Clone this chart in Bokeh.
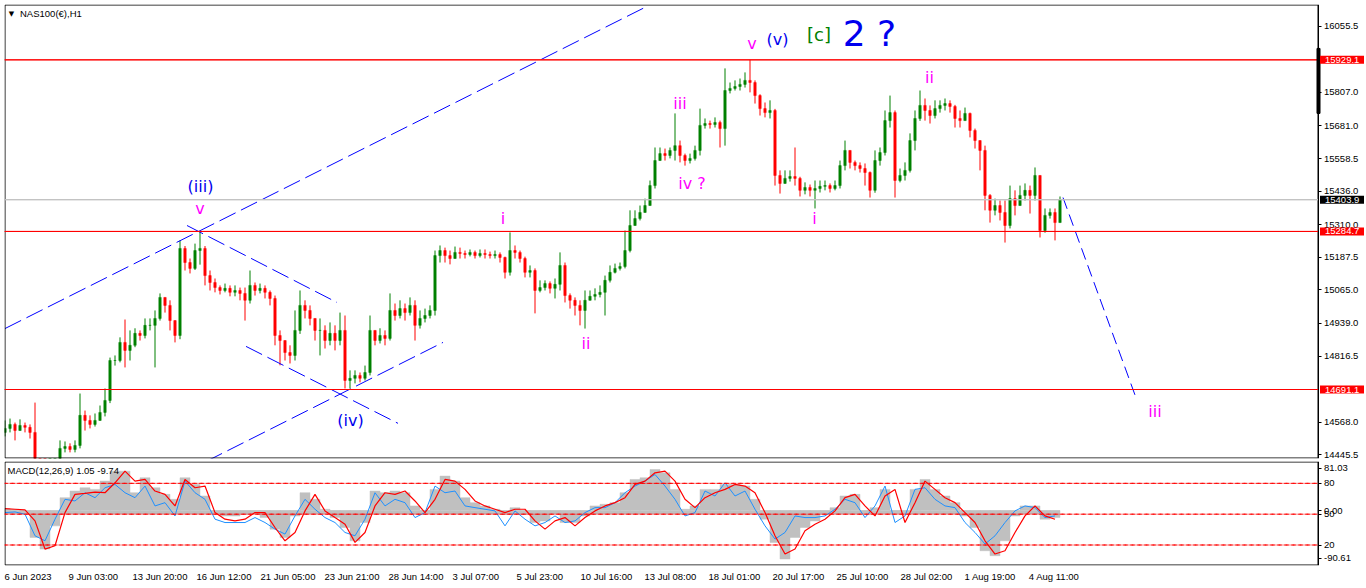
import numpy as np
from bokeh.plotting import figure
from bokeh.layouts import column
from bokeh.models import (Range1d, FixedTicker, NumeralTickFormatter, Label, BoxAnnotation,
                          ColumnDataSource)
from bokeh.embed import file_html
from bokeh.resources import INLINE
from bokeh.core.properties import value

# ---------------- data (NAS100 H1, one entry per 5 hourly bars) ----------------
first_open = 14530
close = [
    14545, 14560, 14537, 14556, 14549, 14530, 14387, 14380, 14368, 14387,
    14402, 14470, 14477, 14466, 14481, 14594, 14575, 14560, 14575, 14605,
    14650, 14800, 14800, 14868, 14838, 14857, 14902, 14894, 14932, 14932,
    14958, 15037, 15007, 14950, 14894, 15221, 15168, 15146, 15213, 15221,
    15119, 15093, 15074, 15063, 15071, 15056, 15063, 15052, 15026, 15082,
    15063, 15071, 15056, 15033, 14894, 14875, 14830, 14819, 14913, 15007,
    14988, 14958, 14913, 14913, 14875, 14902, 14875, 14913, 14725, 14733,
    14744, 14733, 14755, 14913, 14875, 14894, 14883, 14988, 14969, 14995,
    14980, 15007, 14932, 14958, 14969, 14988, 15194, 15213, 15194, 15183,
    15206, 15202, 15198, 15206, 15194, 15202, 15198, 15194, 15198, 15187,
    15131, 15213, 15206, 15183, 15131, 15138, 15063, 15074, 15089, 15071,
    15086, 15157, 15044, 15026, 15007, 14988, 15026, 15041, 15048, 15056,
    15101, 15131, 15146, 15153, 15213, 15307, 15333, 15356, 15382, 15457,
    15551, 15577, 15570, 15589, 15607, 15570, 15551, 15559, 15589, 15683,
    15690, 15686, 15694, 15671, 15814, 15822, 15829, 15837, 15852, 15844,
    15795, 15746, 15731, 15739, 15495, 15465, 15484, 15491, 15484, 15439,
    15450, 15439, 15446, 15454, 15457, 15446, 15457, 15532, 15589, 15544,
    15532, 15521, 15506, 15439, 15551, 15581, 15701, 15731, 15476, 15495,
    15514, 15626, 15709, 15758, 15739, 15720, 15746, 15758, 15765, 15754,
    15709, 15701, 15728, 15664, 15626, 15589, 15420, 15364, 15382, 15356,
    15307, 15408, 15382, 15420, 15439, 15420, 15495, 15288, 15345, 15356,
    15318, 15404,
]
high = [
    14575, 14582, 14567, 14579, 14567, 14560, 14642, 14406, 14395, 14410,
    14425, 14500, 14496, 14489, 14500, 14676, 14612, 14594, 14601, 14631,
    14695, 14811, 14819, 14887, 14954, 14913, 14921, 14913, 14958, 14958,
    14988, 15052, 15037, 15026, 14950, 15251, 15230, 15183, 15239, 15285,
    15230, 15138, 15108, 15082, 15089, 15082, 15082, 15074, 15074, 15138,
    15093, 15089, 15082, 15063, 15044, 14913, 14875, 14857, 14988, 15063,
    15026, 15007, 14958, 14958, 14932, 14943, 14932, 14980, 14969, 14763,
    14763, 14755, 14781, 14969, 14913, 14921, 14913, 15052, 15014, 15026,
    15014, 15037, 15026, 14988, 14995, 15007, 15213, 15232, 15224, 15213,
    15228, 15224, 15213, 15217, 15213, 15217, 15217, 15209, 15213, 15206,
    15190, 15281, 15232, 15213, 15190, 15157, 15146, 15101, 15101, 15097,
    15108, 15206, 15168, 15052, 15037, 15026, 15063, 15063, 15071, 15082,
    15119, 15157, 15164, 15168, 15288, 15364, 15364, 15382, 15408, 15476,
    15600, 15600, 15596, 15600, 15728, 15626, 15577, 15577, 15607, 15746,
    15709, 15701, 15713, 15701, 15897, 15844, 15852, 15859, 15882, 15929,
    15852, 15800, 15769, 15777, 15745, 15514, 15514, 15514, 15600, 15490,
    15469, 15461, 15476, 15476, 15476, 15465, 15476, 15551, 15626, 15589,
    15551, 15544, 15540, 15510, 15589, 15600, 15739, 15795, 15739, 15521,
    15544, 15653, 15739, 15814, 15784, 15758, 15777, 15777, 15784, 15777,
    15760, 15739, 15750, 15731, 15671, 15626, 15607, 15425, 15408, 15401,
    15401, 15457, 15439, 15457, 15465, 15457, 15525, 15495, 15371, 15371,
    15371, 15416,
]
low = [
    14515, 14530, 14500, 14537, 14530, 14507, 14368, 14350, 14342, 14357,
    14372, 14395, 14455, 14455, 14455, 14470, 14537, 14545, 14552, 14575,
    14590, 14640, 14781, 14793, 14774, 14800, 14850, 14875, 14883, 14913,
    14774, 14950, 14980, 14913, 14868, 14880, 15138, 15127, 15140, 15160,
    15082, 15063, 15056, 15048, 15056, 15041, 15041, 15026, 14950, 15014,
    15044, 15052, 15033, 15007, 14857, 14782, 14800, 14789, 14800, 14900,
    14958, 14932, 14875, 14819, 14845, 14857, 14838, 14857, 14695, 14695,
    14714, 14718, 14725, 14744, 14857, 14864, 14857, 14875, 14950, 14958,
    14950, 14969, 14875, 14920, 14943, 14958, 14969, 15168, 15168, 15161,
    15183, 15183, 15183, 15191, 15183, 15187, 15183, 15183, 15183, 15168,
    15108, 15119, 15183, 15168, 15112, 15112, 14977, 15056, 15063, 15052,
    15033, 15063, 15018, 14995, 14969, 14932, 14920, 15026, 15026, 15037,
    14969, 15093, 15127, 15138, 15146, 15206, 15307, 15326, 15356, 15382,
    15446, 15551, 15551, 15559, 15551, 15544, 15532, 15540, 15551, 15570,
    15671, 15671, 15675, 15600, 15607, 15803, 15814, 15814, 15825, 15807,
    15765, 15720, 15713, 15709, 15457, 15427, 15465, 15472, 15457, 15416,
    15424, 15416, 15371, 15431, 15439, 15431, 15439, 15446, 15514, 15521,
    15514, 15506, 15457, 15412, 15430, 15532, 15570, 15675, 15412, 15469,
    15476, 15506, 15589, 15700, 15701, 15690, 15709, 15731, 15739, 15731,
    15675, 15675, 15701, 15638, 15596, 15514, 15364, 15318, 15345, 15326,
    15243, 15296, 15345, 15382, 15401, 15352, 15401, 15262, 15280, 15333,
    15251, 15318,
]

# MACD(12,26,9) panel, one entry per 10 hourly bars
macd_hist = [
    3.3, 2.2, -3.3, -44.3, -63.5, -25.2, 21.3, 32.3, 37.7, 35.0,
    48.7, 65.1, 65.1, 29.5, 54.2, 37.7, 26.8, 18.6, 54.2, 43.2,
    24.1, -3.3, -8.8, -8.8, -6.0, -3.3, -11.5, -30.6, -44.3, -8.8,
    29.5, 18.6, 2.2, -11.5, -27.9, -49.8, -19.7, 32.3, 29.5, 32.3,
    29.5, 7.7, -0.5, 35.0, 56.9, 48.7, 21.3, 13.1, 7.7, 2.2,
    -6.0, 4.9, -6.0, -19.7, -17.0, -3.3, -19.7, -19.7, -8.8, 7.7,
    10.4, 13.1, 29.5, 51.4, 54.2, 67.8, 62.4, 35.0, 2.2, 7.7,
    35.0, 35.0, 43.2, 43.2, 40.5, 18.6, -14.2, -52.5, -79.9, -44.3,
    -27.9, -17.0, -6.0, 4.9, 24.1, 26.8, -3.3, 4.9, 35.0, -0.5,
    -6.0, 35.0, 51.4, 35.0, 24.1, 13.1, -8.8, -27.9, -66.2, -74.4,
    -49.8, -8.8, 7.7, 7.7, -14.2, -11.5,
]
macd_signal = [
    3.3, 2.2, 1.1, -17.0, -63.5, -58.0, -3.3, 26.8, 28.4, 30.6,
    29.5, 45.9, 65.1, 48.7, 51.4, 32.3, 26.8, 7.7, 51.4, 37.7,
    40.5, -3.3, -14.2, -17.0, -14.2, -3.3, -3.3, -27.9, -49.8, -36.1,
    -0.5, 26.8, -0.5, -11.5, -22.4, -52.5, -36.1, 7.7, 29.5, 26.8,
    32.3, 15.9, -3.3, 18.6, 51.4, 48.7, 35.0, 15.9, 7.7, 2.2,
    -3.3, 2.2, 2.2, -17.0, -30.6, -17.0, -11.5, -25.2, -11.5, -0.5,
    7.7, 13.1, 21.3, 43.2, 48.7, 62.4, 65.1, 48.7, 18.6, 4.9,
    21.3, 29.5, 35.0, 43.2, 40.5, 29.5, -3.3, -41.6, -71.7, -63.5,
    -33.4, -22.4, -14.2, -0.5, 21.3, 26.8, 7.7, -8.8, 24.1, 35.0,
    -19.7, 13.1, 48.7, 35.0, 21.3, 13.1, -3.3, -19.7, -49.8, -71.7,
    -66.2, -36.1, -8.8, 7.7, -8.8, -14.2,
]
macd_fast = [
    -3.3, -2.2, -6.0, -41.6, -49.8, -14.2, 18.6, 15.9, 29.5, 21.3,
    37.7, 43.2, 29.5, 21.3, 40.5, 7.7, 13.1, -8.8, 48.7, 29.5,
    18.6, -14.2, -19.7, -19.7, -19.7, -11.5, -19.7, -30.6, -38.8, -8.8,
    18.6, 2.2, -11.5, -19.7, -36.1, -41.6, -14.2, 29.5, 7.7, 18.6,
    13.1, -11.5, -3.3, 40.5, 29.5, 32.3, 7.7, 4.9, 2.2, -0.5,
    -25.2, -0.5, -14.2, -25.2, -19.7, -8.8, -19.7, -17.0, -3.3, 4.9,
    4.9, 13.1, 29.5, 40.5, 48.7, 59.6, 40.5, 18.6, -8.8, -3.3,
    32.3, 24.1, 45.9, 24.1, 32.3, 2.2, -25.2, -47.0, -36.1, -8.8,
    -11.5, -11.5, -8.8, 2.2, 18.6, 13.1, -11.5, 7.7, 40.5, -19.7,
    -8.8, 35.0, 37.7, 18.6, 7.7, 4.9, -19.7, -36.1, -55.2, -41.6,
    -19.7, -0.5, 7.7, 4.9, -11.5, -8.8,
]
macd_levels = [45.0, -5.9, -56.8]        # drawn as the 80 / 50 / 20 levels
macd_zero_band = [-5.9, 0.0]

# horizontal levels / price tags
red_levels = [15929.1, 15284.7, 14691.1]
last_price = 15403.9
scale_marker = [15728.0, 15972.0]        # black bar on the price scale
price_ticks = [16055.5, 15807.0, 15681.0, 15558.5, 15436.0, 15310.0, 15187.5,
               15065.0, 14939.0, 14816.5, 14568.0, 14445.5]

# x axis (bar index, hourly); labels start at their bar
date_ticks = [0, 64, 128, 192, 256, 320, 384, 448, 512, 576, 640, 704, 768, 832, 896, 960, 1024]
date_labels = ["6 Jun 2023", "9 Jun 03:00", "13 Jun 20:00", "16 Jun 12:00", "21 Jun 05:00",
               "23 Jun 21:00", "28 Jun 14:00", "3 Jul 07:00", "5 Jul 23:00", "10 Jul 16:00",
               "13 Jul 08:00", "18 Jul 01:00", "20 Jul 17:00", "25 Jul 10:00", "28 Jul 02:00",
               "1 Aug 19:00", "4 Aug 11:00"]

# Elliott-wave trend lines (bar index, price)
channel_x0 = [0.5, 180.0, 182.5, 241.5]
channel_y0 = [14920, 14380, 15307, 14853]
channel_x1 = [642.5, 438.5, 332.5, 393.5]
channel_y1 = [16130, 14868, 15018, 14564]
proj_x = [1058.5, 1132.5]
proj_y = [15412, 14650]

wave_text = ["(iii)", "v", "(iv)", "i", "ii", "iii", "iv ?", "v", "(v)", "[c]", "2 ?", "ii", "i", "iii"]
wave_x = [196, 195.5, 346, 498.5, 581.5, 675.5, 687.5, 747.5, 773, 814.5, 865, 925, 810, 1150.5]
wave_y = [15454, 15371, 14575, 15333, 14864, 15765, 15465, 15990, 16005, 16025, 16028, 15863, 15333, 14607]
wave_color = ["#0000ee", "#ff00ff", "#0000ee", "#ff00ff", "#ff00ff", "#ff00ff", "#ff00ff",
              "#ff00ff", "#0000ee", "#008000", "#0000ee", "#ff00ff", "#ff00ff", "#ff00ff"]
wave_size = ["16px", "16px", "16px", "16px", "16px", "16px", "16px", "16px", "16px",
             "18px", "36px", "16px", "16px", "16px"]

# ---------------- build ----------------
FONT = "Liberation Sans"
TICK_PX = 9.5
TICK_FS = f"{TICK_PX}px"
FRAME_W = 1360          # frame includes the price-scale strip on the right
X_FULL = 1360.0         # 1 bar unit == 1 px
AXIS_X = 1313.5         # chart / price-scale boundary
P_LO, P_HI = 14432.0, 16137.0
M_LO, M_HI = -90.61, 81.03
H1, H2 = 454, 104

opens = [first_open] + close[:-1]
t = np.arange(len(close)) * 5 + 0.5
o = np.array(opens, dtype=float)
c = np.array(close, dtype=float)
h = np.maximum(np.array(high, dtype=float), np.maximum(o, c))
l = np.minimum(np.array(low, dtype=float), np.minimum(o, c))
col = np.where(c >= o, "#008000", "#ff0000")
src = ColumnDataSource(dict(t=t, o=o, c=c, h=h, l=l, top=np.maximum(o, c),
                            bot=np.minimum(o, c), col=col))

def make_tag(y, text, bg):
    kw = dict(x=AXIS_X, y=y, x_offset=2, text=text, text_align="left", text_baseline="middle",
              text_color="white", text_font=FONT, text_font_size=TICK_FS,
              background_fill_color=bg, background_fill_alpha=1.0)
    try:
        return Label(padding=dict(x=5, y=1), **kw)
    except Exception:
        return Label(padding=2, **kw)

def box(**kw):
    kw.setdefault("fill_color", None)
    kw.setdefault("fill_alpha", 1.0)
    kw.setdefault("line_alpha", 1.0)
    kw.setdefault("line_width", 1)
    return BoxAnnotation(**kw)

def hline(y, color, dash="solid"):
    return box(left=0, right=AXIS_X, bottom=y, top=y, line_color=color, line_dash=dash)

def style_axis(a):
    a.major_label_text_font = FONT
    a.major_label_text_font_size = TICK_FS
    a.major_label_text_color = "black"
    a.major_tick_out = 3
    a.major_tick_in = 0
    a.minor_tick_out = 0
    a.minor_tick_in = 0
    a.major_label_standoff = 3
    a.axis_line_color = "black"

# ---------------- main price panel ----------------
p1 = figure(frame_width=FRAME_W, frame_height=H1, x_range=Range1d(0, X_FULL),
            y_range=Range1d(P_LO, P_HI), output_backend="svg", toolbar_location=None,
            x_axis_location=None, y_axis_location="right",
            min_border_left=4, min_border_top=4, min_border_bottom=3, min_border_right=0)
p1.grid.visible = False
p1.outline_line_color = None
p1.background_fill_color = "white"
p1.border_fill_color = "white"

ax = p1.yaxis[0]
ax.ticker = FixedTicker(ticks=price_ticks)
ax.formatter = NumeralTickFormatter(format="0.0")
ax.fixed_location = AXIS_X
style_axis(ax)

half1 = (P_HI - P_LO) / H1 * 0.5
p1.add_layout(box(left=0.5, right=AXIS_X, bottom=P_LO + half1, top=P_HI - half1,
                  line_color="black"))

for lv in red_levels:
    p1.add_layout(hline(lv, "#ff0000"))
p1.add_layout(hline(last_price, "#c0c0c0"))

p1.segment(x0="t", y0="l", x1="t", y1="h", color="col", line_width=1, source=src)
p1.vbar(x="t", top="top", bottom="bot", width=2.4, fill_color="col", line_color="col",
        line_width=0.5, source=src)

p1.segment(x0=channel_x0, y0=channel_y0, x1=channel_x1, y1=channel_y1,
           line_color="#0000ff", line_width=1, line_dash="18 6")
p1.line(x=proj_x, y=proj_y, line_color="#0000ff", line_width=1, line_dash="12 6")

wsrc = ColumnDataSource(dict(x=wave_x, y=wave_y, text=wave_text, color=wave_color, size=wave_size))
p1.text(x="x", y="y", text="text", text_color="color", text_font_size="size",
        text_font=value("DejaVu Sans"), text_align="center", text_baseline="middle", source=wsrc)

p1.add_layout(box(left=AXIS_X - 1, right=AXIS_X + 2, bottom=scale_marker[0], top=scale_marker[1],
                  fill_color="black", line_color="black"))

for lv in red_levels:
    p1.add_layout(make_tag(lv, f"{lv:.1f}", "#ff0000"))
p1.add_layout(make_tag(last_price, f"{last_price:.1f}", "black"))

p1.add_layout(Label(x=7, y=H1 - 9, x_units="screen", y_units="screen", text="\u25bc",
                    text_align="center", text_baseline="middle", text_font="DejaVu Sans",
                    text_font_size="7px", text_color="black"))
p1.add_layout(Label(x=15.5, y=H1 - 9, x_units="screen", y_units="screen",
                    text="NAS100(\u20ac),H1", text_align="left", text_baseline="middle",
                    text_font=FONT, text_font_size=TICK_FS, text_color="black"))

# ---------------- MACD panel ----------------
mt = np.arange(len(macd_hist)) * 10 + 0.5
p2 = figure(frame_width=FRAME_W, frame_height=H2, x_range=p1.x_range,
            y_range=Range1d(M_LO, M_HI), output_backend="svg", toolbar_location=None,
            y_axis_location="right",
            min_border_left=4, min_border_top=0, min_border_bottom=0, min_border_right=0)
p2.grid.visible = False
p2.outline_line_color = None
p2.background_fill_color = "white"
p2.border_fill_color = "white"

half2 = (M_HI - M_LO) / H2 * 0.5
p2.add_layout(box(left=0.5, right=AXIS_X, bottom=M_LO + half2, top=M_HI - half2,
                  line_color="black"))

p2.quad(left=[mt[0] - 5], right=[mt[-1] + 5], bottom=[macd_zero_band[0]], top=[macd_zero_band[1]],
        fill_color="#c0c0c0", line_color=None)
p2.vbar(x=mt, top=macd_hist, bottom=0, width=10, fill_color="#c0c0c0", line_color="#c0c0c0",
        line_width=0.5)
for lv in macd_levels:
    p2.add_layout(hline(lv, "#ff0000", "4 3"))
p2.line(x=mt, y=macd_fast, line_color="#1e90ff", line_width=1)
p2.line(x=mt, y=macd_signal, line_color="#ff0000", line_width=1.2)

ay = p2.yaxis[0]
ay.ticker = FixedTicker(ticks=[70, 45, 0, -6, -57, -79])
ay.major_label_overrides = {70: "81.03", 45: "80", 0: "0.00", -6: "50", -57: "20", -79: "-90.61"}
ay.fixed_location = AXIS_X
style_axis(ay)

# date labels are left-aligned at their bar (as in MT4): place the axis tick at the label centre
CHAR_EM = {" ": 0.278, ":": 0.278, "J": 0.5, "u": 0.556, "n": 0.556, "l": 0.222,
           "A": 0.667, "g": 0.556}
px_per_unit = FRAME_W / X_FULL
def half_width(s):
    return sum(CHAR_EM.get(ch, 0.556) for ch in s) * TICK_PX / 2 / px_per_unit
label_centres = [round(tk + half_width(s), 2) for tk, s in zip(date_ticks, date_labels)]

axx = p2.xaxis[0]
axx.ticker = FixedTicker(ticks=label_centres)
axx.major_label_overrides = dict(zip(label_centres, date_labels))
style_axis(axx)
axx.major_tick_out = 0
axx.major_label_standoff = 5
axx.axis_line_color = None

p2.add_layout(Label(x=3, y=H2 - 9, x_units="screen", y_units="screen",
                    text="MACD(12,26,9) 1.05 -9.74", text_align="left", text_baseline="middle",
                    text_font=FONT, text_font_size=TICK_FS, text_color="black"))

layout = column(p1, p2, spacing=0)
open("out.html", "w").write(file_html(layout, INLINE))
